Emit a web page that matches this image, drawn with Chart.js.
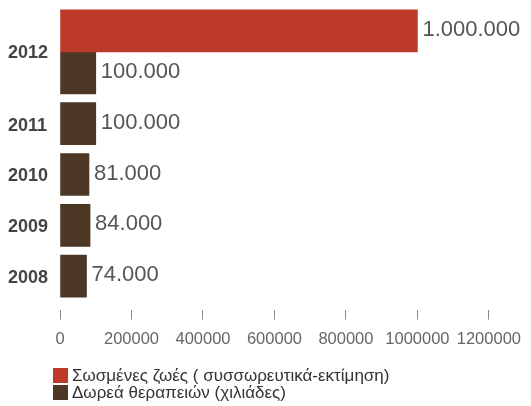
<!DOCTYPE html>
<html>
<head>
<meta charset="utf-8">
<script src="https://cdn.jsdelivr.net/npm/chart.js@4.4.1/dist/chart.umd.min.js"></script>
<style>
  html, body { margin: 0; padding: 0; background: #fff; }
  .wrap { position: relative; width: 531px; height: 406px; font-family: 'Liberation Sans', Arial, sans-serif; }
  #chart { position: absolute; left: 0; top: 0; }
  .legend { position: absolute; left: 53px; top: 367px; font-size: 17px; color: #333; }
  .legend div { display: flex; align-items: center; height: 17px; white-space: nowrap; }
  .legend span { display: inline-block; width: 15px; height: 15px; margin-right: 4px; }
</style>
</head>
<body>
<div class="wrap">
  <canvas id="chart" width="531" height="406"></canvas>
  <div class="legend" id="legend"></div>
</div>
<script>
const years = ['2012', '2011', '2010', '2009', '2008'];
const livesSaved = [1000000, null, null, null, null];
const treatments = [100000, 100000, 81000, 84000, 74000];
const xMax = 1200000;
const xStep = 200000;

const RED = '#bd3a2b';
const BROWN = '#4d3826';
const FONT = "'Liberation Sans', Arial, sans-serif";

function formatDots(n) {
  return String(n).replace(/\B(?=(\d{3})+(?!\d))/g, '.');
}

// value labels to the right of each bar
const barLabels = {
  id: 'barLabels',
  afterDatasetsDraw(chart) {
    const ctx = chart.ctx;
    ctx.save();
    ctx.font = '22px ' + FONT;
    ctx.fillStyle = '#555';
    ctx.textAlign = 'left';
    ctx.textBaseline = 'middle';
    chart.data.datasets.forEach((ds, i) => {
      chart.getDatasetMeta(i).data.forEach((bar, j) => {
        const v = ds.data[j];
        if (v === null || v === undefined) return;
        ctx.fillText(formatDots(v), bar.x + 5, bar.y - 1);
      });
    });
    ctx.restore();
  },
};

const datasets = [
  { label: 'Σωσμένες ζωές ( συσσωρευτικά-εκτίμηση)', data: livesSaved, backgroundColor: RED },
  { label: 'Δωρεά θεραπειών (χιλιάδες)', data: treatments, backgroundColor: BROWN },
];

new Chart(document.getElementById('chart'), {
  type: 'bar',
  data: {
    labels: years,
    datasets: datasets.map((d) => ({ ...d, barThickness: 42, borderWidth: 0, clip: false })),
  },
  options: {
    indexAxis: 'y',
    responsive: false,
    animation: false,
    layout: { padding: { top: 26.4, left: 8, right: 41, bottom: 46.6 } },
    plugins: { legend: { display: false }, tooltip: { enabled: false } },
    scales: {
      x: {
        min: 0,
        max: xMax,
        border: { display: false },
        grid: {
          drawOnChartArea: false,
          tickLength: 39,
          tickBorderDash: [0, 29, 10, 100],
          tickColor: '#888',
          tickWidth: 1,
        },
        ticks: {
          stepSize: xStep,
          padding: 10,
          color: '#666',
          font: { family: FONT, size: 16.5 },
          callback: (v) => String(v),
        },
      },
      y: {
        border: { display: false },
        grid: { display: false, drawTicks: false },
        ticks: {
          autoSkip: false,
          crossAlign: 'far',
          padding: 6,
          labelOffset: 23,
          color: '#444',
          font: { family: FONT, size: 18, weight: 'bold' },
          // 2012 holds both bars, so lift its label to the middle of the pair
          callback: (v, i) => (i === 0 ? [years[i], '', ''] : years[i]),
        },
      },
    },
  },
  plugins: [barLabels],
});

document.getElementById('legend').innerHTML = datasets
  .map((d) => `<div><span style="background:${d.backgroundColor}"></span>${d.label}</div>`)
  .join('');
</script>
</body>
</html>
